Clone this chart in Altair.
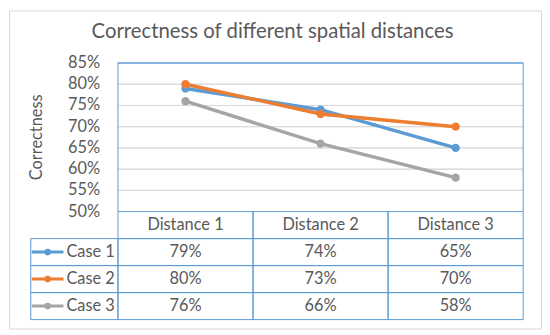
import altair as alt
import pandas as pd

# ---- data ----
title_text = "Correctness of different spatial distances"
y_title = "Correctness"
distances = ["Distance 1", "Distance 2", "Distance 3"]
cases = ["Case 1", "Case 2", "Case 3"]
case1 = [0.79, 0.74, 0.65]
case2 = [0.80, 0.73, 0.70]
case3 = [0.76, 0.66, 0.58]
y_ticks = [0.50, 0.55, 0.60, 0.65, 0.70, 0.75, 0.80, 0.85]
colors = ["#5B9BD5", "#ED7D31", "#A5A5A5"]

# ---- style / layout ----
FONT = "Lato"
TXT = "#595959"
BLUE = "#5B9BD5"
GRID = "#D9D9D9"
FS = 16.5
W, H = 537, 321
PL, PR = 110, 519      # plot area left/right
PT, PB = 53, 203       # plot area top/bottom
TB = 312               # table bottom
LL = 22                # legend column left

series = {"Case 1": case1, "Case 2": case2, "Case 3": case3}
df = pd.DataFrame(
    [{"case": c, "distance": d, "value": v}
     for c in cases for d, v in zip(distances, series[c])]
)
df["label"] = (df["value"] * 100).round().astype(int).astype(str) + "%"
ticks_df = pd.DataFrame({"tick": y_ticks})
ticks_df["label"] = (ticks_df["tick"] * 100).round().astype(int).astype(str) + "%"
grid_df = pd.DataFrame([{"tick": t, "distance": d} for t in y_ticks[1:-1] for d in distances])
top_df = pd.DataFrame([{"tick": y_ticks[-1], "distance": d} for d in distances])
header_df = pd.DataFrame({"distance": distances, "row": ["header"] * 3})
legend_df = pd.DataFrame({"case": cases, "col": ["legend"] * 3})
one_df = pd.DataFrame({"k": [0]})

xs = alt.Scale(domain=distances, range=[PL, PR], paddingInner=0, paddingOuter=0)
lxs = alt.Scale(domain=["legend"], range=[LL, PL], paddingInner=0, paddingOuter=0)
lpos = alt.Scale(type="point", domain=["swatch", "label"], range=[39, 58], padding=0)
anchor = alt.Scale(type="point", domain=["anchor"], range=[PL, PL], padding=0)
ys = alt.Scale(domain=[y_ticks[0], y_ticks[-1]], range=[PB, PT], nice=False, zero=False)
rows = ["header"] + cases
rs = alt.Scale(domain=rows, range=[PB, TB], paddingInner=0, paddingOuter=0)
cs = alt.Scale(domain=cases, range=colors)

X = lambda f: alt.X(f, type="nominal", scale=xs, axis=None)
Y = lambda f: alt.Y(f, type="quantitative", scale=ys, axis=None)
R = lambda f: alt.Y(f, type="nominal", scale=rs, axis=None)
C = alt.Color("case:N", scale=cs, legend=None)
cell = dict(fill="white", fillOpacity=0, stroke=BLUE, strokeWidth=1)

grid = alt.Chart(grid_df).mark_rect(fill="white", fillOpacity=0, stroke=GRID, strokeWidth=1).encode(
    x=X("distance"), y=Y("tick"), y2="tick:Q")
top_border = alt.Chart(top_df).mark_rect(**cell).encode(
    x=X("distance"), y=Y("tick"), y2="tick:Q")
left_border = alt.Chart(one_df).mark_rule(color=BLUE, strokeWidth=1).encode(
    x=alt.XDatum(distances[0], type="nominal", scale=xs, axis=None, bandPosition=0),
    y=alt.YDatum(y_ticks[0], type="quantitative", scale=ys, axis=None),
    y2=alt.Y2Datum(y_ticks[-1]))
right_border = alt.Chart(one_df).mark_rule(color=BLUE, strokeWidth=1).encode(
    x=alt.XDatum(distances[-1], type="nominal", scale=xs, axis=None, bandPosition=1),
    y=alt.YDatum(y_ticks[0], type="quantitative", scale=ys, axis=None),
    y2=alt.Y2Datum(y_ticks[-1]))

tick_labels = alt.Chart(ticks_df).mark_text(align="right", baseline="middle", dx=-18,
                                            font=FONT, fontSize=FS, color=TXT).encode(
    x=alt.XDatum("anchor", type="nominal", scale=anchor, axis=None),
    y=Y("tick"), text="label:N")

header_cells = alt.Chart(header_df).mark_rect(**cell).encode(x=X("distance"), y=R("row"))
value_cells = alt.Chart(df).mark_rect(**cell).encode(x=X("distance"), y=R("case"))
legend_cells = alt.Chart(legend_df).mark_rect(**cell).encode(
    x=alt.X("col:N", scale=lxs, axis=None), y=R("case"))

header_text = alt.Chart(header_df).mark_text(font=FONT, fontSize=FS, color=TXT, baseline="middle").encode(
    x=X("distance"), y=R("row"), text="distance:N")
value_text = alt.Chart(df).mark_text(font=FONT, fontSize=FS, color=TXT, baseline="middle").encode(
    x=X("distance"), y=R("case"), text="label:N")
legend_text = alt.Chart(legend_df).mark_text(font=FONT, fontSize=FS, color=TXT, baseline="middle",
                                             align="left").encode(
    x=alt.XDatum("label", type="nominal", scale=lpos, axis=None), y=R("case"), text="case:N")
swatch_line = alt.Chart(legend_df).mark_point(shape="M-1,0L1,0", size=1024, filled=False,
                                              strokeWidth=3, opacity=1).encode(
    x=alt.XDatum("swatch", type="nominal", scale=lpos, axis=None), y=R("case"), color=C)
swatch_dot = alt.Chart(legend_df).mark_point(shape="circle", size=45, filled=True, opacity=1).encode(
    x=alt.XDatum("swatch", type="nominal", scale=lpos, axis=None), y=R("case"), color=C)

lines = alt.Chart(df).mark_line(strokeWidth=3.5).encode(x=X("distance"), y=Y("value"), color=C)
points = alt.Chart(df).mark_point(filled=True, size=70, opacity=1).encode(
    x=X("distance"), y=Y("value"), color=C)

title = alt.Chart(one_df).mark_text(text=title_text, font=FONT, fontSize=20.5, color=TXT,
                                    align="center", baseline="alphabetic").encode(
    x=alt.value(266), y=alt.value(28))
ytitle = alt.Chart(one_df).mark_text(text=y_title, font=FONT, fontSize=FS, color=TXT, angle=270,
                                     align="center", baseline="middle").encode(
    x=alt.value(28), y=alt.value(128))

chart = alt.layer(
    grid, top_border, left_border, right_border, tick_labels,
    header_cells, value_cells, legend_cells,
    header_text, value_text, legend_text, swatch_line, swatch_dot,
    lines, points, title, ytitle,
).resolve_scale(x="independent", y="independent", color="shared").properties(
    width=W, height=H, padding=1, autosize=alt.AutoSizeParams(type="none"),
    background="white",
).configure_view(stroke=GRID, strokeWidth=1)

chart.save("out.html", embed_options={"renderer": "svg", "actions": False})
